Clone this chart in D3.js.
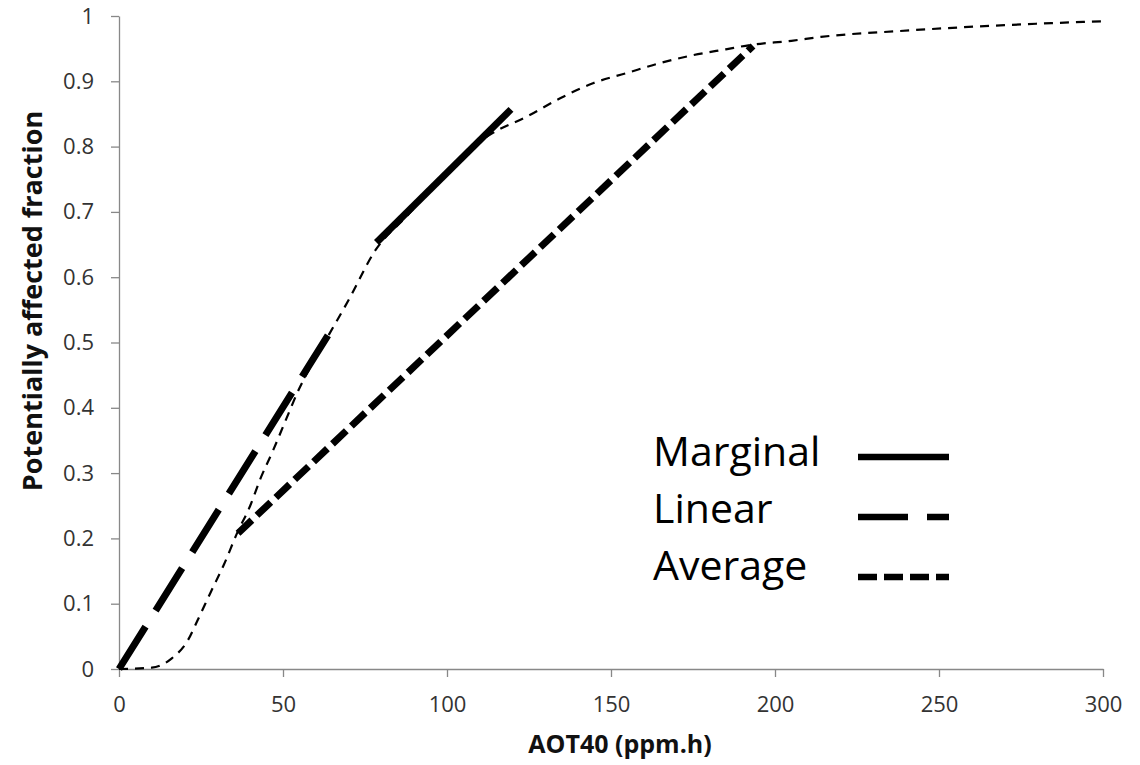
<!DOCTYPE html>
<html>
<head>
<meta charset="utf-8">
<script src="https://cdn.jsdelivr.net/npm/d3@7"></script>
<style>
  body { margin: 0; background: #fff; }
  svg { display: block; font-family: "Open Sans", sans-serif; }
  .axis path, .axis line { stroke: #888; stroke-width: 1.3; }
  .axis text { fill: #333; font-size: 22px; }
</style>
</head>
<body>
<div id="chart"></div>
<script>
// ticks
var xTicks = [0, 50, 100, 150, 200, 250, 300];
var yTicks = [0, 0.1, 0.2, 0.3, 0.4, 0.5, 0.6, 0.7, 0.8, 0.9, 1];

// dose-response curve (thin dashed)
var curveX = [0, 10, 16, 21, 24, 28, 32, 36, 40, 43, 47, 51, 55, 59, 64, 70, 78, 88, 98, 108, 114, 124, 134.5, 144.5, 155, 165, 175, 185, 193, 205, 214, 238, 270, 300];
var curveY = [0, 0.002, 0.016, 0.044, 0.075, 0.118, 0.16, 0.208, 0.25, 0.29, 0.335, 0.383, 0.43, 0.468, 0.512, 0.565, 0.64, 0.695, 0.75, 0.80, 0.821, 0.845, 0.874, 0.897, 0.913, 0.928, 0.94, 0.949, 0.956, 0.962, 0.968, 0.977, 0.986, 0.992];

// approximation lines
var marginalX = [78.5, 119.5], marginalY = [0.653, 0.857];
var linearX = [0, 63.7],      linearY = [0, 0.511];
var averageX = [36.3, 193.3], averageY = [0.208, 0.954];

var legendNames = ["Marginal", "Linear", "Average"];

var width = 1140, height = 765;
var margin = {left: 119, right: 37, top: 16, bottom: 96};

var svg = d3.select("#chart").append("svg")
	.attr("width", width)
	.attr("height", height);

var x = d3.scaleLinear().domain([0, 300]).range([margin.left, width - margin.right]);
var y = d3.scaleLinear().domain([0, 1]).range([height - margin.bottom, margin.top]);

// axes
svg.append("g")
	.attr("class", "axis")
	.attr("transform", "translate(0," + y(0) + ")")
	.call(d3.axisBottom(x).tickValues(xTicks).tickSize(8).tickSizeOuter(0).tickPadding(19).tickFormat(d3.format("d")))
	.call(function (g) { g.attr("font-family", null).attr("font-size", null); });

svg.append("g")
	.attr("class", "axis")
	.attr("transform", "translate(" + x(0) + ",0)")
	.call(d3.axisLeft(y).tickValues(yTicks).tickSize(8).tickSizeOuter(0).tickPadding(17).tickFormat(function (d) { return String(+d.toFixed(1)); }))
	.call(function (g) { g.attr("font-family", null).attr("font-size", null); });

// axis titles
svg.append("text")
	.attr("x", 620).attr("y", 753)
	.attr("text-anchor", "middle")
	.style("font-size", "25px").style("font-weight", "bold").style("fill", "#111")
	.text("AOT40 (ppm.h)");

svg.append("text")
	.attr("transform", "translate(42,301) rotate(-90)")
	.attr("text-anchor", "middle")
	.style("font-size", "27px").style("font-weight", "bold").style("fill", "#111")
	.text("Potentially affected fraction");

var line = d3.line()
	.x(function (d) { return x(d[0]); })
	.y(function (d) { return y(d[1]); });

// thin curve
svg.append("path")
	.datum(d3.zip(curveX, curveY))
	.attr("d", line.curve(d3.curveMonotoneX))
	.attr("fill", "none")
	.attr("stroke", "#000")
	.attr("stroke-width", 2.2)
	.attr("stroke-dasharray", "9,7");

line.curve(d3.curveLinear);

var styles = [
	{name: legendNames[0], xs: marginalX, ys: marginalY, dash: null},
	{name: legendNames[1], xs: linearX, ys: linearY, dash: "50,19"},
	{name: legendNames[2], xs: averageX, ys: averageY, dash: "19,7"}
];

styles.forEach(function (s) {
	svg.append("path")
		.datum(d3.zip(s.xs, s.ys))
		.attr("d", line)
		.attr("fill", "none")
		.attr("stroke", "#000")
		.attr("stroke-width", 7)
		.attr("stroke-dasharray", s.dash);
});

// legend
var legend = svg.append("g").attr("transform", "translate(653,0)");
styles.forEach(function (s, i) {
	legend.append("text")
		.attr("x", 0).attr("y", 466 + i * 57)
		.style("font-size", "41px").style("fill", "#000")
		.text(s.name);
	legend.append("line")
		.attr("x1", 205).attr("x2", 296)
		.attr("y1", 457 + i * 60).attr("y2", 457 + i * 60)
		.attr("stroke", "#000")
		.attr("stroke-width", 6.5)
		.attr("stroke-dasharray", s.dash);
});
</script>
</body>
</html>
